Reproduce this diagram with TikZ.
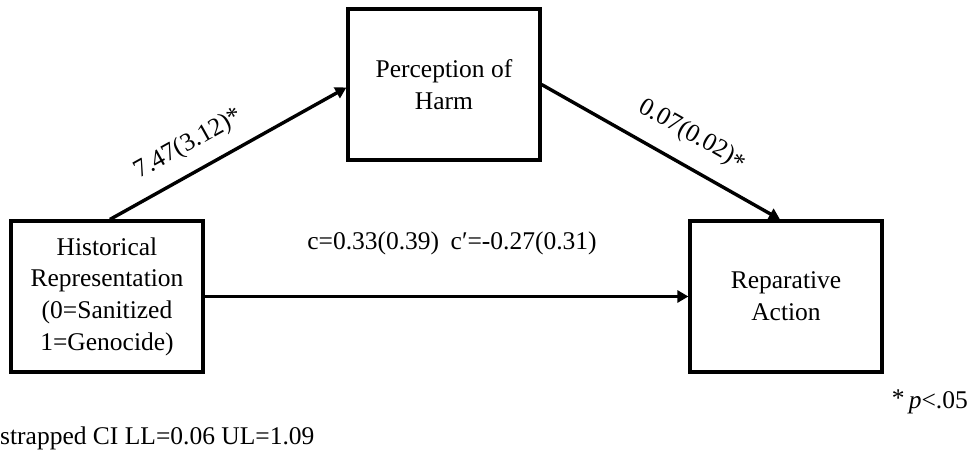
\documentclass[tikz,border=0pt]{standalone}
\usepackage{fontspec}
\setmainfont{Liberation Serif}
\usetikzlibrary{arrows.meta}
\begin{document}
\begin{tikzpicture}[x=1pt,y=-1pt,
  every node/.style={font=\fontsize{25.5}{31.7}\selectfont},
  varbox/.style={draw,line width=3.2pt,minimum width=192pt,minimum height=151pt,align=center,inner sep=0pt},
  conn/.style={line width=3.4pt,-{Triangle[length=11pt,width=12pt]}},
  coef/.style={sloped,inner sep=0pt}]
\useasboundingbox (0,0) rectangle (972,454);
\node[varbox] (hist) at (107,296.5) {Historical\\Representation\\(0=Sanitized\\1=Genocide)};
\node[varbox] (perc) at (444,84.5) {Perception of\\Harm};
\node[varbox] (rep) at (786,296.5) {Reparative\\Action};
\draw[conn] ([xshift=3pt]hist.north) -- node[coef,pos=0.39,above=14pt] {7.47(3.12)*} ([yshift=-3pt]perc.west);
\draw[conn] (perc.east) -- node[coef,pos=0.57,above=17pt] {0.07(0.02)\raisebox{-0.3ex}{*}} ([xshift=-6pt]rep.north);
\draw[conn] (hist.east) -- (rep.west);
\node (clab) at (452,243) {c=0.33(0.39)\hspace{0.45em}c′=-0.27(0.31)};
\node[anchor=east,inner sep=0pt] (sig) at (968,402) {\raisebox{0.2ex}{*}\,\textit{p}<.05};
\node[anchor=west,inner sep=0pt] (ci) at (0,438) {strapped CI LL=0.06 UL=1.09};
\end{tikzpicture}
\end{document}
